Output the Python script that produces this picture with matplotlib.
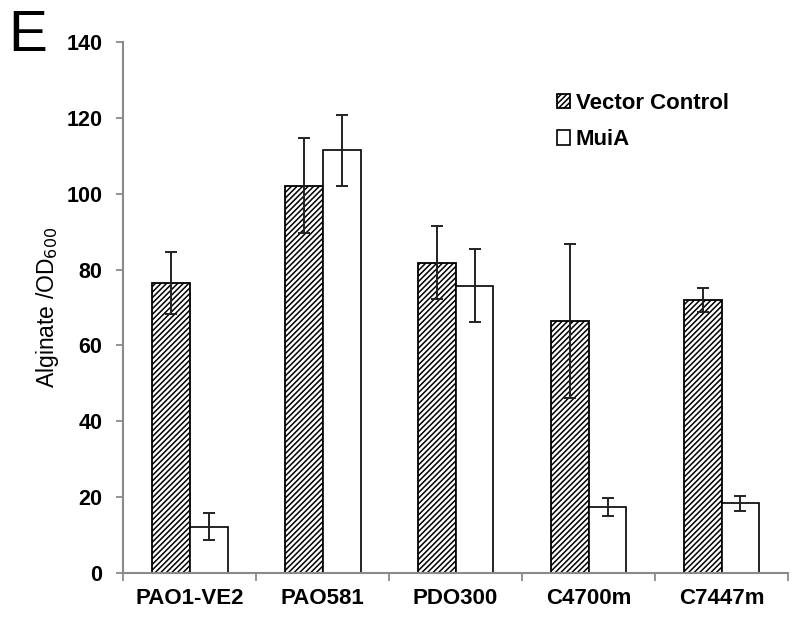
import numpy as np
import matplotlib
matplotlib.use("Agg")
import matplotlib.pyplot as plt

strains = ["PAO1-VE2", "PAO581", "PDO300", "C4700m", "C7447m"]
vector_mean = [76.5, 102.1, 81.8, 66.5, 72.0]
vector_err = [8.2, 12.5, 9.6, 20.3, 3.2]
muia_mean = [12.2, 111.4, 75.8, 17.4, 18.4]
muia_err = [3.5, 9.3, 9.6, 2.4, 2.0]
yticks = [0, 20, 40, 60, 80, 100, 120, 140]

GRAY = "#8a8a8a"
plt.rcParams.update({
    "font.family": ["Liberation Sans", "DejaVu Sans"],
    "hatch.linewidth": 1.1,
    "hatch.color": "black",
})

fig = plt.figure(figsize=(8, 6.18), dpi=100)
ax = fig.add_axes([0.154, 0.0728, 0.831, 0.8592])

x = np.arange(len(strains))
w = 0.285
ekw = dict(ecolor="#222222", elinewidth=1.4, capsize=4, capthick=1.4)
ax.bar(x - w / 2, vector_mean, width=w, color="white", edgecolor="black",
       hatch="//////", linewidth=1.3, yerr=vector_err, error_kw=ekw,
       label="Vector Control")
ax.bar(x + w / 2, muia_mean, width=w, color="white", edgecolor="black",
       linewidth=1.2, yerr=muia_err, error_kw=ekw, label="MuiA")

ax.set_xlim(-0.5, len(strains) - 0.5)
ax.set_ylim(0, 140)
ax.set_yticks(yticks)
ax.set_xticks(x)
ax.set_xticklabels(strains, fontsize=16, fontweight="bold")
ax.set_xticks(np.arange(len(strains) + 1) - 0.5, minor=True)
ax.tick_params(axis="x", which="major", length=0, pad=11)
ax.tick_params(axis="x", which="minor", length=6, width=1.3, color=GRAY)
ax.tick_params(axis="y", length=5, width=1.3, color=GRAY, pad=10,
               labelsize=15.5)
for lab in ax.get_yticklabels():
    lab.set_fontweight("bold")

for s in ("top", "right"):
    ax.spines[s].set_visible(False)
for s in ("left", "bottom"):
    ax.spines[s].set_color(GRAY)
    ax.spines[s].set_linewidth(1.5)

ax.set_ylabel("Alginate /OD$_{600}$", fontsize=16.5, labelpad=4)

ax.legend(loc="upper left", bbox_to_anchor=(0.622, 0.942), frameon=False,
          handlelength=0.6, handleheight=0.6, handletextpad=0.25,
          labelspacing=0.7, prop={"size": 16, "weight": "bold"})

fig.text(0.01, 0.985, "E", fontsize=42, va="top", ha="left")

fig.savefig("out.png", dpi=100)
